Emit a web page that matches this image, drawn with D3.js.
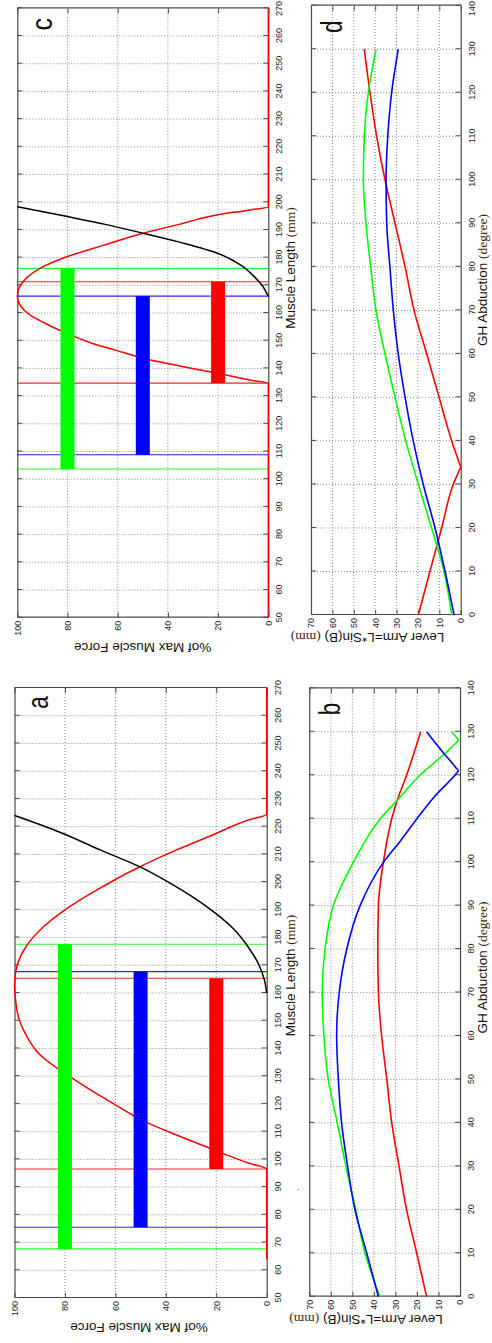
<!DOCTYPE html>
<html><head><meta charset="utf-8">
<script src="https://cdn.jsdelivr.net/npm/d3@7"></script>
<style>html,body{margin:0;padding:0;background:#fff;} svg{display:block}</style>
</head><body>
<script>
// ---------- tick labels ----------
const lengthTicks = [50,60,70,80,90,100,110,120,130,140,150,160,170,180,190,200,210,220,230,240,250,260,270];
const forceTicks = [0,20,40,60,80,100];
const angleTicks = [0,10,20,30,40,50,60,70,80,90,100,110,120,130,140];
const leverTicks = [0,10,20,30,40,50,60,70];

// ---------- panel a (muscle length mm, % max force) ----------
const aActiveL = [64,96.5,98.6,104,108.5,113.7,120.2,129.2,138.3,144.2,150,157.5,163,168.3,174,179.7,183.9,190,196,205,211.6,217,222.4,224.5,270];
const aActiveF = [0,0,7,22.5,35,48.5,61,77,90.5,95,98,99.6,100,99.4,97.2,93,88.5,80,69.5,51.5,35.7,21.5,7.3,0,0];
const aPassiveL = [160,165,170,176.7,183,188.9,195,200,205.4,211.6,218,224];
const aPassiveF = [0,1,3,7.4,13,20.5,30,39,50,66,82,100];
const aGreenRange = [67.7,177.6];
const aBlueRange = [75.5,167.7];
const aRedRange = [96.5,165.3];

// ---------- panel c ----------
const cActiveL = [50,134.6,135.8,138.8,143,146.6,149,151.4,153.5,156.3,159.3,163,166,169,172.5,176.1,180.3,184.5,188.8,192,195.4,197.2,198.4,270];
const cActiveF = [0,0,7.3,23.2,47,61,70,77,82.5,89,95,99,100,99.3,96.5,91,80.3,65.5,49.8,35.5,20.6,7.3,0,0];
const cPassiveL = [166,170,173.5,177,181.5,185,188.8,192,194.8,198.4];
const cPassiveF = [0,2.5,6,10.5,20,33,50,65,80,100];
const cGreenRange = [103.7,176.1];
const cBlueRange = [108.8,166.1];
const cRedRange = [134.7,171.3];

// bar force levels (green, blue, red)
const barLevels = [80,50,20];

// ---------- panel b (GH abduction deg, lever arm mm) ----------
const bRedAng = [0,10,20,30,40,50,60,70,80,90,100,110,114.6,120,130];
const bRedVal = [15.5,20.1,24.8,28.3,31.7,34,36.4,37.9,38.2,37.9,35.6,31.7,28.9,24.8,18.3];
const bBlueAng = [0,10,20,30,40,50,60,70,80,90,100,105,110,115,120.3,121,121.8,125,130];
const bBlueVal = [37.9,43.3,48.8,52.2,55,56.5,57.3,56.1,52.6,46.4,35.5,27.5,20,12,1.9,0.8,2,7.5,15.5];
const bGreenAng = [0,10,20,30,40,50,60,70,80,90,100,110,114.6,120,125,127.4,128,128.6,130];
const bGreenVal = [37.2,44.1,48.4,53,57,61.2,63.2,64,62.7,58.8,49.5,37,28.5,18.6,7,1.9,0.8,1.5,3.9];

// ---------- panel d ----------
const dRedAng = [0,10,20,30,33.2,34,34.8,40,50,60,70,80,90,100,110,120,130];
const dRedVal = [19.8,14.4,8.9,3.5,0.7,0,0.56,4.2,10.1,15.9,21.8,26,30.7,35.4,39.3,42.4,45.1];
const dBlueAng = [0,10,20,30,40,50,60,70,80,90,100,110,120,130];
const dBlueVal = [3.1,7.3,12,17.5,22.2,26,29.2,31.5,33.1,34.6,34.9,34.1,32.3,29.2];
const dGreenAng = [0,10,20,30,40,50,60,70,80,90,100,110,120,130];
const dGreenVal = [4.2,7.8,13.6,19.8,25.7,30.7,35.4,39.6,42.1,44.3,45.5,45.1,43.2,39.6];

// ---------- drawing ----------
const W = 492, H = 1343;
const SANS = "'Liberation Sans', Arial, Helvetica, sans-serif";
const SERIF = "'Liberation Serif', 'Times New Roman', serif";
const GREEN = '#00ff00', BLUE = '#0000ff', RED = '#ff0000';

const svg = d3.select('body').append('svg').attr('width', W).attr('height', H);
const defs = svg.append('defs');
// the whole landscape figure is rotated 90° counter-clockwise
const root = svg.append('g').attr('transform', `translate(0,${H}) rotate(-90)`);

function makePanel(key, box, xTicks, yTicks) {
  const x = d3.scaleLinear().domain([xTicks[0], xTicks[xTicks.length-1]]).range([box.x0, box.x1]);
  const y = d3.scaleLinear().domain([yTicks[0], yTicks[yTicks.length-1]]).range([box.y1, box.y0]);
  const g = root.append('g');
  defs.append('clipPath').attr('id', 'clip-' + key).append('rect')
    .attr('x', box.x0 - 1.5).attr('y', box.y0 - 1.5)
    .attr('width', box.x1 - box.x0 + 3).attr('height', box.y1 - box.y0 + 3);
  const grid = g.append('g').attr('stroke', '#7a7a7a').attr('stroke-width', 0.9).attr('stroke-dasharray', '1,2');
  grid.selectAll('line.gx').data(xTicks.slice(1, -1)).join('line').attr('class', 'gx')
    .attr('x1', d => x(d)).attr('x2', d => x(d)).attr('y1', box.y0).attr('y2', box.y1);
  grid.selectAll('line.gy').data(yTicks.slice(1, -1)).join('line').attr('class', 'gy')
    .attr('y1', d => y(d)).attr('y2', d => y(d)).attr('x1', box.x0).attr('x2', box.x1);
  const ax = g.append('g');
  const bottom = ax.append('g').attr('transform', `translate(0,${box.y1})`)
    .call(d3.axisBottom(x).tickValues(xTicks).tickSize(-5).tickSizeOuter(0).tickPadding(7.5));
  ax.append('g').attr('transform', `translate(0,${box.y0})`)
    .call(d3.axisTop(x).tickValues(xTicks).tickSize(-5).tickSizeOuter(0).tickFormat(''));
  ax.append('g').attr('transform', `translate(${box.x0},0)`)
    .call(d3.axisLeft(y).tickValues(yTicks).tickSize(-5).tickSizeOuter(0).tickPadding(3));
  ax.append('g').attr('transform', `translate(${box.x1},0)`)
    .call(d3.axisRight(y).tickValues(yTicks).tickSize(-5).tickSizeOuter(0).tickFormat(''));
  ax.selectAll('.domain').attr('stroke', '#4a4a4a').attr('stroke-width', 1.2);
  ax.selectAll('.tick line').attr('stroke', '#4a4a4a').attr('stroke-width', 1);
  ax.selectAll('.tick text').attr('font-size', 9).attr('font-family', SANS).attr('fill', '#222');
  // keep the last bottom label inside the page
  const lastX = x(xTicks[xTicks.length - 1]);
  if (lastX > 1334) bottom.selectAll('.tick text').filter(d => d === xTicks[xTicks.length - 1]).attr('dx', -(lastX - 1334));
  const plot = g.append('g').attr('clip-path', `url(#clip-${key})`);
  return { x, y, g, plot, box };
}

function curve(p, xs, ys, color, w) {
  const line = d3.line().x(d => p.x(d[0])).y(d => p.y(d[1])).curve(d3.curveMonotoneX);
  p.plot.append('path').datum(d3.zip(xs, ys)).attr('d', line)
    .attr('fill', 'none').attr('stroke', color).attr('stroke-width', w).attr('stroke-linejoin', 'round');
}
function vlines(p, range, color) {
  p.plot.selectAll(null).data(range).join('line')
    .attr('x1', d => p.x(d)).attr('x2', d => p.x(d))
    .attr('y1', p.box.y0).attr('y2', p.box.y1)
    .attr('stroke', color).attr('stroke-width', 1.1).attr('opacity', 0.85);
}
function bar(p, range, level, color) {
  const h = 14;
  p.plot.append('rect').attr('x', p.x(range[0])).attr('width', p.x(range[1]) - p.x(range[0]))
    .attr('y', p.y(level) - h / 2).attr('height', h).attr('fill', color);
}

// ----- panel a -----
const pa = makePanel('a', { x0: 45, x1: 655, y0: 14.5, y1: 266.7 }, lengthTicks, forceTicks);
vlines(pa, aGreenRange, GREEN); vlines(pa, aBlueRange, BLUE); vlines(pa, aRedRange, RED);
curve(pa, aActiveL, aActiveF, RED, 1.5);
curve(pa, aPassiveL, aPassiveF, '#000', 1.5);
bar(pa, aGreenRange, barLevels[0], GREEN); bar(pa, aBlueRange, barLevels[1], BLUE); bar(pa, aRedRange, barLevels[2], RED);

// ----- panel c -----
const pc = makePanel('c', { x0: 725.3, x1: 1334.7, y0: 17.3, y1: 268.3 }, lengthTicks, forceTicks);
vlines(pc, cGreenRange, GREEN); vlines(pc, cBlueRange, BLUE); vlines(pc, cRedRange, RED);
curve(pc, cActiveL, cActiveF, RED, 1.5);
curve(pc, cPassiveL, cPassiveF, '#000', 1.5);
bar(pc, cGreenRange, barLevels[0], GREEN); bar(pc, cBlueRange, barLevels[1], BLUE); bar(pc, cRedRange, barLevels[2], RED);

// ----- panel b -----
const pb = makePanel('b', { x0: 46.3, x1: 654.7, y0: 309.3, y1: 460 }, angleTicks, leverTicks);
curve(pb, bRedAng, bRedVal, RED, 1.6);
curve(pb, bGreenAng, bGreenVal, GREEN, 1.6);
curve(pb, bBlueAng, bBlueVal, BLUE, 1.6);

// ----- panel d -----
const pd = makePanel('d', { x0: 728, x1: 1337.3, y0: 311, y1: 460.7 }, angleTicks, leverTicks);
curve(pd, dRedAng, dRedVal, RED, 1.6);
curve(pd, dGreenAng, dGreenVal, GREEN, 1.6);
curve(pd, dBlueAng, dBlueVal, BLUE, 1.6);

// ----- panel letters -----
[['a', 640.5, 48], ['c', 1318.8, 51.7], ['b', 634, 340], ['d', 1316.3, 341.7]].forEach(([t, x, y]) => {
  root.append('text').attr('x', x).attr('y', y).attr('text-anchor', 'middle')
    .attr('font-family', SANS).attr('font-size', 30).attr('fill', '#111')
    .attr('textLength', 12.5).attr('lengthAdjust', 'spacingAndGlyphs').text(t);
});

// ----- axis titles -----
function xTitle(cx, base, main, unit) {
  const t = root.append('text').attr('x', cx).attr('y', base).attr('text-anchor', 'middle')
    .attr('font-family', SANS).attr('font-size', 13.5).attr('fill', '#111');
  t.append('tspan').text(main);
  t.append('tspan').attr('font-family', SERIF).attr('fill', '#3a2a10').text(unit);
}
xTitle(367.5, 295, 'Muscle Length ', '(mm)');
xTitle(1075, 295, 'Muscle Length ', '(mm)');
xTitle(375.5, 487, 'GH Abduction ', '(degree)');
xTitle(1063, 487, 'GH Abduction ', '(degree)');

function yTitle(bx, cy, main, unit) {
  const t = root.append('text').attr('transform', `translate(${bx},${cy}) rotate(-90)`).attr('text-anchor', 'middle')
    .attr('font-family', SANS).attr('font-size', 13.5).attr('fill', '#111');
  t.append('tspan').text(main);
  if (unit) t.append('tspan').attr('font-family', SERIF).attr('fill', '#3a2a10').text(unit);
}
yTitle(20.3, 139, '%of Max Muscle Force');
yTitle(700, 142.7, '%of Max Muscle Force');
yTitle(28, 366, 'Lever Arm=L*Sin(B) ', '(mm)');
yTitle(709.7, 367.5, 'Lever Arm=L*Sin(B) ', '(mm)');

// stray dot in the original scan
root.append('text').attr('x', 152).attr('y', 299).attr('font-family', SANS).attr('font-size', 10).attr('fill', '#555').text('.');
</script>
</body></html>
